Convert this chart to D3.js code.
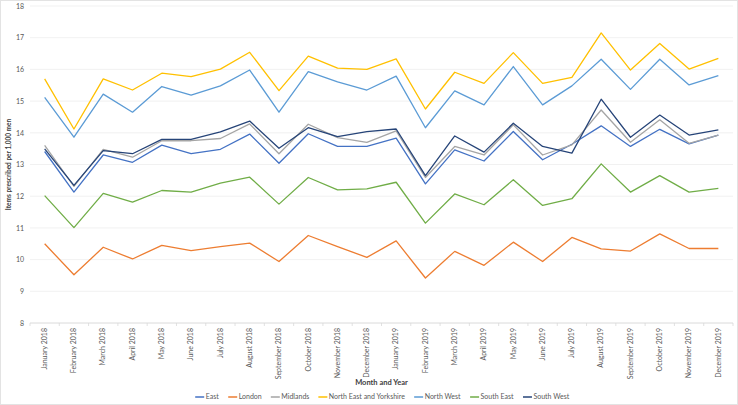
<!DOCTYPE html>
<html><head><meta charset="utf-8">
<script src="https://cdn.jsdelivr.net/npm/d3@7"></script>
<style>body{margin:0;background:#fff}svg{display:block}text{font-family:Lato,"Open Sans",sans-serif}</style>
</head><body><svg id="c" width="738" height="405"></svg>
<script>
const months = ["January 2018","February 2018","March 2018","April 2018","May 2018","June 2018","July 2018","August 2018","September 2018","October 2018","November 2018","December 2018","January 2019","February 2019","March 2019","April 2019","May 2019","June 2019","July 2019","August 2019","September 2019","October 2019","November 2019","December 2019"];
const seriesNames = ["East","London","Midlands","North East and Yorkshire","North West","South East","South West"];
const east     = [13.41,12.13,13.30,13.07,13.61,13.34,13.48,13.96,13.04,13.97,13.57,13.57,13.83,12.39,13.46,13.11,14.04,13.15,13.64,14.22,13.57,14.11,13.65,13.93];
const london   = [10.50,9.52,10.39,10.02,10.45,10.28,10.41,10.52,9.94,10.76,10.41,10.07,10.59,9.42,10.26,9.82,10.55,9.94,10.70,10.34,10.27,10.81,10.35,10.35];
const midlands = [13.60,12.31,13.48,13.23,13.75,13.75,13.82,14.28,13.34,14.27,13.85,13.70,14.06,12.59,13.57,13.30,14.25,13.30,13.62,14.72,13.70,14.41,13.67,13.93];
const northEastYorks = [15.70,14.12,15.70,15.35,15.88,15.77,16.01,16.54,15.33,16.42,16.04,16.00,16.33,14.75,15.91,15.56,16.53,15.56,15.75,17.15,15.98,16.82,16.01,16.35];
const northWest = [15.12,13.86,15.22,14.65,15.46,15.19,15.48,15.98,14.65,15.93,15.61,15.35,15.79,14.16,15.32,14.88,16.09,14.88,15.48,16.32,15.37,16.32,15.51,15.80];
const southEast = [12.02,11.01,12.09,11.81,12.18,12.13,12.41,12.60,11.75,12.59,12.20,12.23,12.44,11.15,12.07,11.73,12.52,11.71,11.92,13.02,12.13,12.65,12.13,12.25];
const southWest = [13.49,12.34,13.44,13.34,13.79,13.79,14.03,14.37,13.51,14.16,13.88,14.04,14.12,12.65,13.90,13.39,14.30,13.57,13.36,15.06,13.86,14.56,13.93,14.09];
const yTicks = [8,9,10,11,12,13,14,15,16,17,18];
const colors = ["#4472C4","#ED7D31","#A5A5A5","#FFC000","#5B9BD5","#70AD47","#264478"];
const seriesValues = [east,london,midlands,northEastYorks,northWest,southEast,southWest];

const svg = d3.select("#c");
svg.append("rect").attr("x",0.5).attr("y",0.5).attr("width",737).attr("height",404).attr("fill","#fff").attr("stroke","#E3E3E3");

const L=30, R=733, T=6, B=323;
const x = d3.scaleBand().domain(months).range([L,R]);
const y = d3.scaleLinear().domain([8,18]).range([B,T]);

// gridlines
svg.append("g").selectAll("line").data(yTicks).join("line")
  .attr("x1",L).attr("x2",R).attr("y1",d=>y(d)).attr("y2",d=>y(d))
  .attr("stroke",d=>d===8?"#D0D0D0":"#EDEDED").attr("stroke-width",0.8);

// y axis labels
const ya = svg.append("g").attr("transform",`translate(${L-6},0)`)
  .call(d3.axisLeft(y).tickValues(yTicks).tickSize(0).tickPadding(0));
ya.select(".domain").remove();
ya.selectAll("text").attr("fill","#595959").attr("font-size",7);

// x axis
const xa = svg.append("g").attr("transform",`translate(0,${B})`)
  .call(d3.axisBottom(x).tickSize(0).tickPadding(0));
xa.select(".domain").remove();
xa.selectAll("text").attr("fill","#595959").attr("font-size",7)
  .attr("text-anchor","end").attr("dy","0.32em")
  .attr("transform","translate(0,5) rotate(-90)").attr("x",0).attr("y",0);
// category boundary ticks
svg.append("g").selectAll("line").data(months.concat(["_end"])).join("line")
  .attr("x1",(d,i)=>L+i*x.step()).attr("x2",(d,i)=>L+i*x.step())
  .attr("y1",B).attr("y2",B+3).attr("stroke","#D9D9D9").attr("stroke-width",0.8);

// lines
const line = d3.line().x((d,i)=>x(months[i])+x.bandwidth()/2).y(d=>y(d));
svg.append("g").selectAll("path").data(seriesValues).join("path")
  .attr("d",d=>line(d)).attr("fill","none").attr("stroke",(d,i)=>colors[i])
  .attr("stroke-width",1.3).attr("stroke-linejoin","round");

// titles
svg.append("text").attr("x",(L+R)/2).attr("y",385).attr("text-anchor","middle")
  .attr("font-size",7.5).attr("font-weight","bold").attr("fill","#404040").text("Month and Year");
svg.append("text").attr("transform",`translate(9,${(T+B)/2}) rotate(-90)`).attr("text-anchor","middle")
  .attr("dy","0.35em").attr("font-size",6.5).attr("font-weight","bold").attr("fill","#404040")
  .text("Items prescribed per 1,000 men");

// legend
const lg = svg.append("g").attr("transform","translate(0,397)");
const items = lg.selectAll("g").data(seriesNames).join("g");
items.append("line").attr("x1",0).attr("x2",9).attr("stroke",(d,i)=>colors[i]).attr("stroke-width",1.5);
items.append("text").attr("x",10.5).attr("dy","0.35em").attr("font-size",7).attr("fill","#595959").text(d=>d);
let off=0; const widths=[];
items.each(function(){ widths.push(this.getBBox().width); });
const gap=9; const total=d3.sum(widths)+gap*(widths.length-1);
let cx=(L+R)/2-total/2+1;
items.attr("transform",(d,i)=>{const t=`translate(${cx},0)`; cx+=widths[i]+gap; return t;});
</script></body></html>
